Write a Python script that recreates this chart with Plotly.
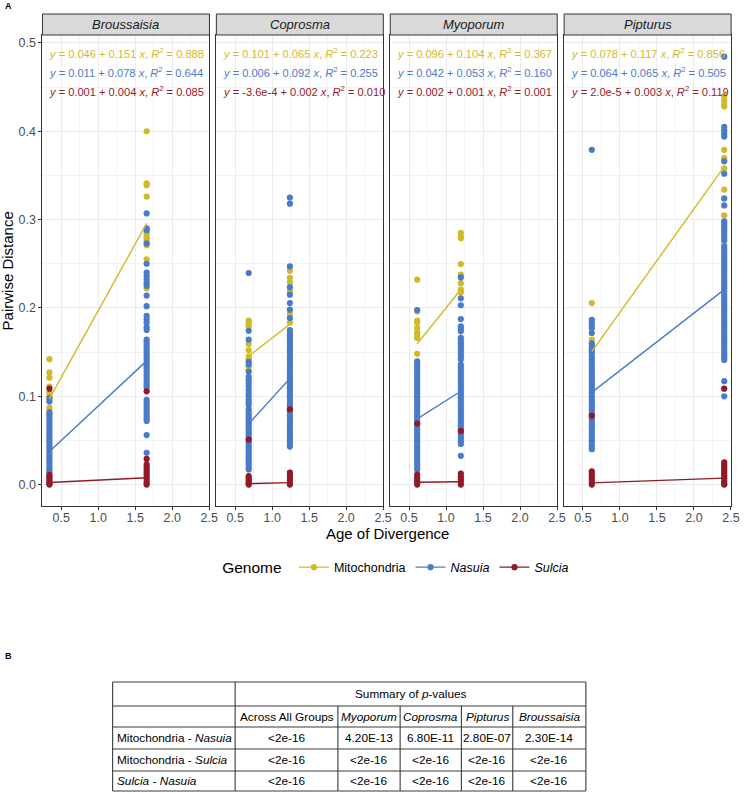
import plotly.graph_objects as go

# ---------------- data ----------------
panels = ["Broussaisia", "Coprosma", "Myoporum", "Pipturus"]
genomes = ["Mitochondria", "Nasuia", "Sulcia"]
genome_labels = ["Mitochondria", "<i>Nasuia</i>", "<i>Sulcia</i>"]
colors = ["#D2B928", "#4A7BC8", "#901B27"]

# age of divergence of the two comparison groups in each panel
age_lo = [0.34, 0.683, 0.61, 0.62]
age_hi = [1.654, 1.24, 1.2, 2.41]

# Broussaisia
bro_mito_lo = [0.142, 0.127, 0.121, 0.111, 0.104, 0.100, 0.097, 0.087, 0.079]
bro_mito_hi = [0.400, 0.341, 0.339, 0.326, 0.285, 0.282, 0.279, 0.276, 0.271, 0.255, 0.222]
bro_nas_lo = [0.098, 0.094, 0.082, 0.080, 0.076, 0.073, 0.070, 0.067, 0.064, 0.061, 0.058,
              0.055, 0.052, 0.049, 0.046, 0.043, 0.040, 0.037, 0.034, 0.031, 0.028, 0.025,
              0.022, 0.019, 0.016, 0.014]
bro_nas_hi = [0.307, 0.290, 0.288, 0.273, 0.250, 0.240, 0.236, 0.232, 0.228, 0.225, 0.214,
              0.202, 0.191, 0.187, 0.183, 0.178, 0.175, 0.164, 0.161, 0.158, 0.155, 0.152,
              0.149, 0.146, 0.143, 0.140, 0.137, 0.134, 0.131, 0.128, 0.125, 0.122, 0.119,
              0.116, 0.113, 0.110, 0.096, 0.093, 0.090, 0.087, 0.084, 0.081, 0.078, 0.075,
              0.072, 0.056, 0.036]
bro_sul_lo = [0.1086, 0.011, 0.009, 0.007, 0.005, 0.003, 0.001, 0.0]
bro_sul_hi = [0.1055, 0.029, 0.0226, 0.020, 0.017, 0.014, 0.011, 0.008, 0.005, 0.002, 0.0]

# Coprosma
cop_mito_lo = [0.1855, 0.1835, 0.179, 0.159, 0.152, 0.145, 0.143, 0.141, 0.134, 0.129, 0.119]
cop_mito_hi = [0.242, 0.234, 0.229, 0.219, 0.193, 0.1835]
cop_nas_lo = [0.2395, 0.174, 0.164, 0.139, 0.136, 0.128, 0.122, 0.118, 0.114, 0.111, 0.107,
              0.103, 0.100, 0.096, 0.093, 0.090, 0.085, 0.082, 0.079, 0.076, 0.073, 0.070,
              0.067, 0.064, 0.061, 0.058, 0.055, 0.052, 0.049, 0.046, 0.043, 0.040, 0.037,
              0.034, 0.031, 0.028, 0.025, 0.022, 0.019, 0.017]
cop_nas_hi = [0.325, 0.318, 0.247, 0.2235, 0.215, 0.2055, 0.198, 0.1885, 0.175, 0.172, 0.169,
              0.166, 0.163, 0.160, 0.157, 0.154, 0.151, 0.148, 0.145, 0.142, 0.139, 0.136,
              0.133, 0.130, 0.127, 0.124, 0.121, 0.118, 0.115, 0.112, 0.109, 0.106, 0.103,
              0.100, 0.097, 0.094, 0.091, 0.088, 0.085, 0.082, 0.079, 0.076, 0.073, 0.070,
              0.067, 0.064, 0.061, 0.058, 0.055, 0.052, 0.049, 0.046, 0.043]
cop_sul_lo = [0.051, 0.0095, 0.007, 0.005, 0.003, 0.001, 0.0]
cop_sul_hi = [0.085, 0.0135, 0.011, 0.008, 0.005, 0.002, 0.0]

# Myoporum
myo_mito_lo = [0.232, 0.196, 0.1855, 0.1835, 0.177, 0.172, 0.169, 0.166, 0.148]
myo_mito_hi = [0.285, 0.281, 0.279, 0.2497, 0.2376, 0.228, 0.2206, 0.2175]
myo_nas_lo = [0.1975, 0.1395, 0.136, 0.133, 0.130, 0.127, 0.124, 0.121, 0.118, 0.115, 0.112,
              0.109, 0.106, 0.103, 0.100, 0.097, 0.094, 0.091, 0.088, 0.085, 0.082, 0.079,
              0.076, 0.073, 0.070, 0.067, 0.064, 0.061, 0.058, 0.055, 0.052, 0.049, 0.046,
              0.043, 0.040, 0.037, 0.034, 0.031, 0.028, 0.025, 0.022, 0.019, 0.017]
myo_nas_hi = [0.2345, 0.2108, 0.203, 0.1874, 0.179, 0.176, 0.1735, 0.166, 0.163, 0.160, 0.157,
              0.154, 0.151, 0.148, 0.145, 0.142, 0.1357, 0.133, 0.130, 0.127, 0.124, 0.121,
              0.118, 0.115, 0.112, 0.109, 0.106, 0.103, 0.100, 0.097, 0.094, 0.091, 0.088,
              0.085, 0.082, 0.079, 0.076, 0.073, 0.070, 0.067, 0.064, 0.061, 0.058, 0.055,
              0.052, 0.049, 0.046, 0.0325]
myo_sul_lo = [0.069, 0.0113, 0.008, 0.005, 0.002, 0.0]
myo_sul_hi = [0.0607, 0.0124, 0.009, 0.006, 0.003, 0.0]

# Pipturus
pip_mito_lo = [0.2055, 0.164, 0.153]
pip_mito_hi = [0.440, 0.435, 0.431, 0.428, 0.379, 0.3695, 0.358, 0.334, 0.3047, 0.275]
pip_nas_lo = [0.379, 0.1866, 0.183, 0.180, 0.177, 0.1716, 0.160, 0.157, 0.154, 0.151, 0.148,
              0.145, 0.142, 0.139, 0.136, 0.133, 0.130, 0.127, 0.124, 0.121, 0.118, 0.115,
              0.112, 0.109, 0.106, 0.103, 0.100, 0.097, 0.094, 0.091, 0.088, 0.085, 0.082,
              0.079, 0.076, 0.073, 0.070, 0.067, 0.064, 0.061, 0.058, 0.055, 0.052, 0.049,
              0.046, 0.043, 0.040]
pip_nas_hi = [0.4845, 0.405, 0.401, 0.397, 0.394, 0.366, 0.352, 0.324, 0.316, 0.298, 0.295,
              0.292, 0.289, 0.286, 0.283, 0.280, 0.277, 0.270, 0.267, 0.264, 0.261, 0.258,
              0.255, 0.252, 0.249, 0.246, 0.243, 0.240, 0.237, 0.234, 0.231, 0.228, 0.225,
              0.222, 0.219, 0.216, 0.213, 0.210, 0.207, 0.204, 0.201, 0.198, 0.195, 0.192,
              0.189, 0.186, 0.183, 0.180, 0.177, 0.174, 0.171, 0.168, 0.165, 0.162, 0.159,
              0.156, 0.153, 0.150, 0.147, 0.144, 0.141, 0.117, 0.0999]
pip_sul_lo = [0.078, 0.015, 0.012, 0.009, 0.006, 0.003, 0.0]
pip_sul_hi = [0.1086, 0.025, 0.022, 0.019, 0.016, 0.013, 0.010, 0.007, 0.004, 0.001, 0.0]

# regression fits (intercept, slope, R^2) per panel
mito_a = [0.046, 0.101, 0.096, 0.078]
mito_b = [0.151, 0.065, 0.104, 0.117]
mito_r2 = ["0.888", "0.223", "0.367", "0.856"]
nas_a = [0.011, 0.006, 0.042, 0.064]
nas_b = [0.078, 0.092, 0.053, 0.065]
nas_r2 = ["0.644", "0.255", "0.160", "0.505"]
sul_a = [0.001, -3.6e-4, 0.002, 2.0e-5]
sul_b = [0.004, 0.002, 0.001, 0.003]
sul_r2 = ["0.085", "0.010", "0.001", "0.119"]

# table (panel B)
table_header = "Summary of <i>p</i>-values"
table_cols = ["Across All Groups", "<i>Myoporum</i>", "<i>Coprosma</i>", "<i>Pipturus</i>", "<i>Broussaisia</i>"]
table_rows = ["Mitochondria - <i>Nasuia</i>", "Mitochondria - <i>Sulcia</i>", "<i>Sulcia</i> - <i>Nasuia</i>"]
pvals_mito_nas = ["<2e-16", "4.20E-13", "6.80E-11", "2.80E-07", "2.30E-14"]
pvals_mito_sul = ["<2e-16", "<2e-16", "<2e-16", "<2e-16", "<2e-16"]
pvals_sul_nas = ["<2e-16", "<2e-16", "<2e-16", "<2e-16", "<2e-16"]

# ---------------- assembly ----------------
points = {
    "Mitochondria": [(bro_mito_lo, bro_mito_hi), (cop_mito_lo, cop_mito_hi), (myo_mito_lo, myo_mito_hi), (pip_mito_lo, pip_mito_hi)],
    "Nasuia": [(bro_nas_lo, bro_nas_hi), (cop_nas_lo, cop_nas_hi), (myo_nas_lo, myo_nas_hi), (pip_nas_lo, pip_nas_hi)],
    "Sulcia": [(bro_sul_lo, bro_sul_hi), (cop_sul_lo, cop_sul_hi), (myo_sul_lo, myo_sul_hi), (pip_sul_lo, pip_sul_hi)],
}
fits = {
    "Mitochondria": (mito_a, mito_b, mito_r2),
    "Nasuia": (nas_a, nas_b, nas_r2),
    "Sulcia": (sul_a, sul_b, sul_r2),
}

W, H = 749, 794
FONT = "Liberation Sans, Arial, Helvetica, sans-serif"
panel_left = [43, 219, 395, 571]
panel_w = 169
plot_top, plot_bot = 35, 506
strip_top = 14


def px_x(v):
    return v / W


def px_y(v):
    return 1 - v / H


def fmt_int(a):
    if abs(a) >= 0.001 or a == 0:
        return f"{a:.3f}"
    s = f"{a:.1e}"
    mant, exp = s.split("e")
    return f"{mant}e{int(exp)}"


fig = go.Figure()
layout_axes = {}
annotations = []
shapes = []

for p, name in enumerate(panels):
    sfx = "" if p == 0 else str(p + 1)
    xa, ya = "x" + sfx, "y" + sfx
    for g, gen in enumerate(genomes):
        lo, hi = points[gen][p]
        xs = [age_lo[p]] * len(lo) + [age_hi[p]] * len(hi)
        ys = list(lo) + list(hi)
        fig.add_trace(go.Scatter(
            x=xs, y=ys, mode="markers", xaxis=xa, yaxis=ya,
            marker=dict(size=6.2, color=colors[g], line=dict(width=0)),
            showlegend=False, legendgroup=gen, hoverinfo="skip"))
    for g, gen in enumerate(genomes):
        a, b, r2 = fits[gen]
        xl = [age_lo[p], age_hi[p]]
        yl = [a[p] + b[p] * xv for xv in xl]
        fig.add_trace(go.Scatter(
            x=xl, y=yl, mode="lines", xaxis=xa, yaxis=ya,
            line=dict(color=colors[g], width=1.4),
            showlegend=False, legendgroup=gen, hoverinfo="skip"))
        eq = (f"<i>y</i> = {fmt_int(a[p])} + {b[p]:.3f} <i>x</i>, "
              f"<i>R</i><sup>2</sup> = {r2[p]}")
        annotations.append(dict(
            text=eq, xref=xa + " domain", yref=ya + " domain",
            x=0.03, y=[0.9618, 0.9214, 0.881][g], xanchor="left", yanchor="middle",
            showarrow=False, font=dict(family=FONT, size=11.1, color=colors[g])))

    x0 = panel_left[p]
    x1 = x0 + panel_w
    layout_axes["xaxis" + sfx] = dict(
        domain=[px_x(x0), px_x(x1)], anchor=ya, range=[0.246, 2.503],
        tickvals=[0.5, 1.0, 1.5, 2.0, 2.5], ticktext=["0.5", "1.0", "1.5", "2.0", "2.5"],
        ticks="outside", ticklen=3, tickcolor="#333333", tickwidth=1,
        ticklabelstandoff=-3,
        tickfont=dict(family=FONT, size=12.5, color="#4D4D4D"),
        showgrid=True, gridcolor="#EBEBEB", gridwidth=1,
        minor=dict(tickvals=[0.25, 0.75, 1.25, 1.75, 2.25], showgrid=True,
                   gridcolor="#F3F3F3", gridwidth=0.8, ticks=""),
        showline=True, mirror=True, linecolor="#333333", linewidth=1,
        zeroline=False, fixedrange=True)
    layout_axes["yaxis" + sfx] = dict(
        domain=[px_y(plot_bot), px_y(plot_top)], anchor=xa, range=[-0.0243, 0.509],
        tickvals=[0.0, 0.1, 0.2, 0.3, 0.4, 0.5],
        ticktext=["0.0", "0.1", "0.2", "0.3", "0.4", "0.5"],
        showticklabels=(p == 0), ticks="outside" if p == 0 else "",
        ticklen=3, tickcolor="#333333", tickwidth=1,
        tickfont=dict(family=FONT, size=12.5, color="#4D4D4D"),
        showgrid=True, gridcolor="#EBEBEB", gridwidth=1,
        minor=dict(tickvals=[0.05, 0.15, 0.25, 0.35, 0.45], showgrid=True,
                   gridcolor="#F3F3F3", gridwidth=0.8, ticks=""),
        showline=True, mirror=True, linecolor="#333333", linewidth=1,
        zeroline=False, fixedrange=True)
    # strip
    shapes.append(dict(type="rect", xref="paper", yref="paper",
                       x0=px_x(x0), x1=px_x(x1), y0=px_y(plot_top), y1=px_y(strip_top),
                       fillcolor="#D9D9D9", line=dict(color="#333333", width=1)))
    annotations.append(dict(text=f"<i>{name}</i>", xref="paper", yref="paper",
                            x=px_x((x0 + x1) / 2), y=px_y((plot_top + strip_top) / 2),
                            xanchor="center", yanchor="middle", showarrow=False,
                            font=dict(family=FONT, size=13, color="#1A1A1A")))

# legend entries
for g, gen in enumerate(genomes):
    fig.add_trace(go.Scatter(
        x=[None], y=[None], mode="lines+markers", name=genome_labels[g],
        marker=dict(size=6.2, color=colors[g]), line=dict(color=colors[g], width=1.4),
        legendgroup=gen, showlegend=True))

# axis titles & panel letters
annotations.append(dict(text="Age of Divergence", xref="paper", yref="paper",
                        x=px_x(392), y=px_y(533), xanchor="center", yanchor="middle",
                        showarrow=False, font=dict(family=FONT, size=15, color="black")))
annotations.append(dict(text="Pairwise Distance", xref="paper", yref="paper",
                        x=px_x(8), y=px_y((plot_top + plot_bot) / 2), textangle=-90,
                        xanchor="center", yanchor="middle",
                        showarrow=False, font=dict(family=FONT, size=15, color="black")))
annotations.append(dict(text="<b>A</b>", xref="paper", yref="paper", x=px_x(3), y=px_y(6),
                        xanchor="left", yanchor="middle", showarrow=False,
                        font=dict(family=FONT, size=9, color="black")))
annotations.append(dict(text="<b>B</b>", xref="paper", yref="paper", x=px_x(3), y=px_y(656),
                        xanchor="left", yanchor="middle", showarrow=False,
                        font=dict(family=FONT, size=9, color="black")))

# ---------------- table (panel B) ----------------
tcols = [114, 238, 342, 405, 467, 519, 593]
trows = [682, 706, 727, 749, 771, 791]
TL = dict(color="#3A3A3A", width=1.1)
for r in trows:
    shapes.append(dict(type="line", xref="paper", yref="paper",
                       x0=px_x(tcols[0]), x1=px_x(tcols[-1]), y0=px_y(r), y1=px_y(r), line=TL))
for i, c in enumerate(tcols):
    ytop = trows[0] if i in (0, 1, len(tcols) - 1) else trows[1]
    shapes.append(dict(type="line", xref="paper", yref="paper",
                       x0=px_x(c), x1=px_x(c), y0=px_y(ytop), y1=px_y(trows[-1]), line=TL))
TF = dict(family=FONT, size=11.8, color="black")
annotations.append(dict(text=table_header, xref="paper", yref="paper",
                        x=px_x((tcols[1] + tcols[-1]) / 2), y=px_y((trows[0] + trows[1]) / 2),
                        xanchor="center", yanchor="middle", showarrow=False, font=TF))
for j, ctext in enumerate(table_cols):
    annotations.append(dict(text=ctext, xref="paper", yref="paper",
                            x=px_x((tcols[j + 1] + tcols[j + 2]) / 2),
                            y=px_y((trows[1] + trows[2]) / 2),
                            xanchor="center", yanchor="middle", showarrow=False, font=TF))
for i, (rlab, vals) in enumerate(zip(table_rows, [pvals_mito_nas, pvals_mito_sul, pvals_sul_nas])):
    yc = px_y((trows[i + 2] + trows[i + 3]) / 2)
    annotations.append(dict(text=rlab, xref="paper", yref="paper", x=px_x(tcols[0] + 2), y=yc,
                            xanchor="left", yanchor="middle", showarrow=False, font=TF))
    for j, v in enumerate(vals):
        annotations.append(dict(text=v, xref="paper", yref="paper",
                                x=px_x((tcols[j + 1] + tcols[j + 2]) / 2), y=yc,
                                xanchor="center", yanchor="middle", showarrow=False, font=TF))

fig.update_layout(
    width=W, height=H, margin=dict(l=0, r=0, t=0, b=0),
    paper_bgcolor="white", plot_bgcolor="white",
    font=dict(family=FONT),
    showlegend=True,
    legend=dict(orientation="h", x=px_x(402), xanchor="center", y=px_y(568), yanchor="middle",
                title=dict(text="Genome ", font=dict(family=FONT, size=15.5, color="black"), side="left"),
                font=dict(family=FONT, size=12.5, color="black"),
                itemwidth=30, tracegroupgap=0, bgcolor="rgba(0,0,0,0)"),
    annotations=annotations, shapes=shapes,
    **layout_axes,
)

fig.write_html("out.html",
               config={"displayModeBar": False},
               post_script="document.body.style.margin='0px';document.body.style.padding='0px';")
